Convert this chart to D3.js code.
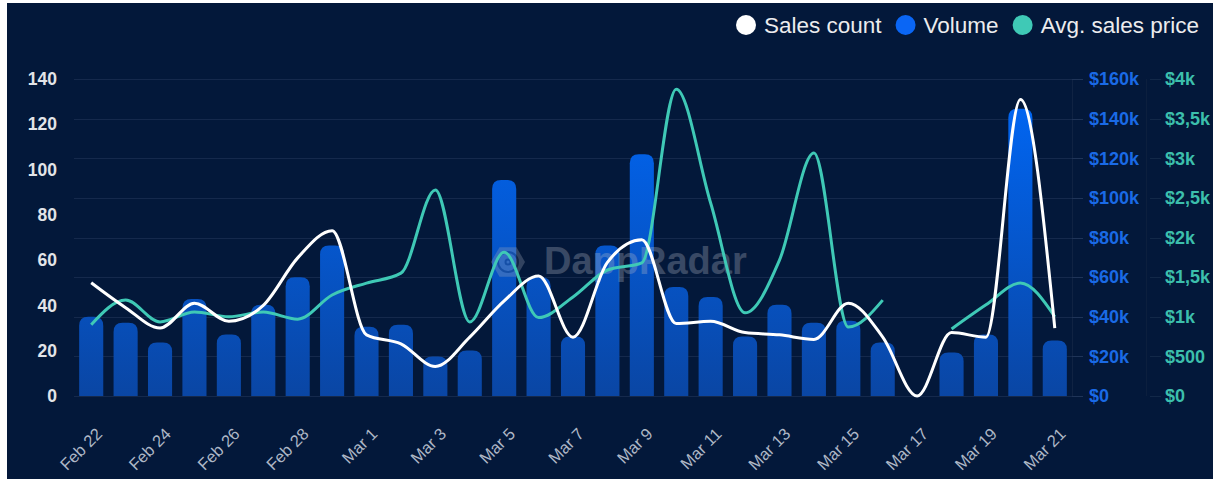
<!DOCTYPE html>
<html>
<head>
<meta charset="utf-8">
<script src="https://cdn.jsdelivr.net/npm/d3@7"></script>
<style>
html, body { margin: 0; padding: 0; background: #fff; }
svg { display: block; font-family: "Liberation Sans", Arial, sans-serif; }
</style>
</head>
<body>
<div class="graph"></div>
<script>
/*---------- DATA ----------*/

const dates = ["Feb 22","Feb 23","Feb 24","Feb 25","Feb 26","Feb 27","Feb 28","Feb 29",
    "Mar 1","Mar 2","Mar 3","Mar 4","Mar 5","Mar 6","Mar 7","Mar 8","Mar 9","Mar 10",
    "Mar 11","Mar 12","Mar 13","Mar 14","Mar 15","Mar 16","Mar 17","Mar 18","Mar 19",
    "Mar 20","Mar 21"];

// volume in $k
const volume = [40, 37, 27, 49, 31, 46, 60, 76, 35, 36, 20, 23, 109, 60, 30, 76, 122, 55,
    50, 30, 46, 37, 38, 27, 0, 22, 31, 145, 28];

const salesCount = [50, 39, 30, 41, 33, 40, 61, 73, 27, 23, 13, 26, 42, 53, 26, 59, 69, 32,
    33, 28, 27, 25, 41, 26, 0, 28, 26, 131, 30];

const avgPrice = [900, 1210, 935, 1060, 1000, 1060, 970, 1275, 1425, 1550, 2600, 935, 1815,
    990, 1250, 1590, 1680, 3870, 2435, 1050, 1715, 3065, 870, 1210, null, 845, 1150, 1425, 1000];

const countTicks = [0, 20, 40, 60, 80, 100, 120, 140];
const volumeTicks = [0, 20, 40, 60, 80, 100, 120, 140, 160];
const volumeLabels = ["$0","$20k","$40k","$60k","$80k","$100k","$120k","$140k","$160k"];
const priceTicks = [0, 500, 1000, 1500, 2000, 2500, 3000, 3500, 4000];
const priceLabels = ["$0","$500","$1k","$1,5k","$2k","$2,5k","$3k","$3,5k","$4k"];

const legendItems = [
    {name: "Sales count", color: "#ffffff"},
    {name: "Volume", color: "#0a66f5"},
    {name: "Avg. sales price", color: "#3fc9b6"}
];

/*---------- D3 STUFF ----------*/

const SIZE = {X: 1225, Y: 479};
const PLOT = {LEFT: 74, RIGHT: 1072, TOP: 79, BOTTOM: 396};
const COLORS = {BG: "#03183a", GRID: "#15294c", WHITE: "#ffffff", TEAL: "#3fc9b6",
    BLUE_TXT: "#1a6ae6", TEAL_TXT: "#3cbfac", AXIS_TXT: "#e2e4e8", X_TXT: "#aeb7c6"};

const svg = d3.select(".graph").append("svg")
    .attr("width", SIZE.X)
    .attr("height", SIZE.Y);

//dark card background
svg.append("rect")
    .attr("x", 7).attr("y", 3)
    .attr("width", 1206).attr("height", 476)
    .attr("fill", COLORS.BG);

//scales
const x = d3.scaleBand()
    .domain(dates)
    .range([PLOT.LEFT, PLOT.RIGHT])
    .paddingInner(0.3)
    .paddingOuter(0.15);

const yCount = d3.scaleLinear().domain([0, 140]).range([PLOT.BOTTOM, PLOT.TOP]);
const yVol = d3.scaleLinear().domain([0, 160]).range([PLOT.BOTTOM, PLOT.TOP]);
const yPrice = d3.scaleLinear().domain([0, 4000]).range([PLOT.BOTTOM, PLOT.TOP]);

const cx = d => x(d) + x.bandwidth() / 2;

//gradient for bars
const defs = svg.append("defs");
const grad = defs.append("linearGradient")
    .attr("id", "barGrad")
    .attr("gradientUnits", "userSpaceOnUse")
    .attr("x1", 0).attr("x2", 0)
    .attr("y1", PLOT.TOP).attr("y2", PLOT.BOTTOM);
grad.append("stop").attr("offset", "0%").attr("stop-color", "#0068f8");
grad.append("stop").attr("offset", "100%").attr("stop-color", "#0a46a4");

//gridlines (follow the volume axis)
svg.append("g")
    .selectAll("line")
    .data(volumeTicks)
    .enter()
    .append("line")
        .attr("x1", PLOT.LEFT).attr("x2", PLOT.RIGHT)
        .attr("y1", d => Math.round(yVol(d)) + 0.5)
        .attr("y2", d => Math.round(yVol(d)) + 0.5)
        .attr("stroke", COLORS.GRID)
        .attr("stroke-width", 1);

//faint right axis lines
svg.append("line")
    .attr("x1", PLOT.RIGHT + 0.5).attr("x2", PLOT.RIGHT + 0.5)
    .attr("y1", PLOT.TOP).attr("y2", PLOT.BOTTOM)
    .attr("stroke", "#102343");
svg.append("line")
    .attr("x1", 1146.5).attr("x2", 1146.5)
    .attr("y1", PLOT.TOP).attr("y2", PLOT.BOTTOM)
    .attr("stroke", "#0c1f3e");

//bars with rounded tops
function barPath(xPos, w, yTop, yBase, r) {
    r = Math.min(r, w / 2, yBase - yTop);
    return `M${xPos},${yBase} V${yTop + r} Q${xPos},${yTop} ${xPos + r},${yTop}` +
        ` H${xPos + w - r} Q${xPos + w},${yTop} ${xPos + w},${yTop + r} V${yBase} Z`;
}

svg.append("g")
    .selectAll("path")
    .data(dates.map((d, i) => ({date: d, v: volume[i]})).filter(d => d.v > 0))
    .enter()
    .append("path")
        .attr("d", d => barPath(x(d.date), x.bandwidth(), yVol(d.v), PLOT.BOTTOM, 9))
        .attr("fill", "url(#barGrad)");

//watermark
const wm = svg.append("g").attr("opacity", 0.3);
const hex = d3.range(6).map(k => {
    const a = Math.PI / 3 * k;
    return [508 + 17 * Math.cos(a), 262 + 17 * Math.sin(a)];
});
wm.append("path")
    .attr("d", d3.line()(hex) + "Z")
    .attr("fill", "#a0a8b8");
[10, 6, 2.5].forEach((r, k) => {
    wm.append("circle")
        .attr("cx", 508).attr("cy", 262).attr("r", r)
        .attr("fill", "none")
        .attr("stroke", k % 2 ? "#a0a8b8" : "#3a4660")
        .attr("stroke-width", 2);
});
wm.append("text")
    .attr("x", 544).attr("y", 274)
    .attr("font-size", 38)
    .attr("font-weight", "bold")
    .attr("fill", "#b6bcc8")
    .text("DappRadar");

//lines
const countLine = d3.line()
    .x((d, i) => cx(dates[i]))
    .y(d => yCount(d))
    .curve(d3.curveMonotoneX);

const priceLine = d3.line()
    .defined(d => d !== null)
    .x((d, i) => cx(dates[i]))
    .y(d => yPrice(d))
    .curve(d3.curveMonotoneX);

svg.append("path")
    .datum(avgPrice)
    .attr("d", priceLine)
    .attr("fill", "none")
    .attr("stroke", COLORS.TEAL)
    .attr("stroke-width", 3)
    .attr("stroke-linejoin", "round");

svg.append("path")
    .datum(salesCount)
    .attr("d", countLine)
    .attr("fill", "none")
    .attr("stroke", COLORS.WHITE)
    .attr("stroke-width", 3)
    .attr("stroke-linejoin", "round");

//left axis (sales count)
svg.append("g")
    .selectAll("text")
    .data(countTicks)
    .enter()
    .append("text")
        .attr("x", 57)
        .attr("y", d => yCount(d))
        .attr("dy", "0.35em")
        .attr("text-anchor", "end")
        .attr("font-size", 17.5)
        .attr("font-weight", "bold")
        .attr("fill", COLORS.AXIS_TXT)
        .text(d => d);

//right axis (volume)
const volAxis = svg.append("g");
volAxis.selectAll("line")
    .data(volumeTicks)
    .enter()
    .append("line")
        .attr("x1", PLOT.RIGHT).attr("x2", PLOT.RIGHT + 11)
        .attr("y1", d => Math.round(yVol(d)) + 0.5)
        .attr("y2", d => Math.round(yVol(d)) + 0.5)
        .attr("stroke", "#1f3458");
volAxis.selectAll("text")
    .data(volumeTicks)
    .enter()
    .append("text")
        .attr("x", 1089)
        .attr("y", d => yVol(d))
        .attr("dy", "0.35em")
        .attr("font-size", 18)
        .attr("font-weight", "bold")
        .attr("fill", COLORS.BLUE_TXT)
        .text((d, i) => volumeLabels[i]);

//right axis (avg. price)
const priceAxis = svg.append("g");
priceAxis.selectAll("line")
    .data(priceTicks)
    .enter()
    .append("line")
        .attr("x1", 1150).attr("x2", 1161)
        .attr("y1", d => Math.round(yPrice(d)) + 0.5)
        .attr("y2", d => Math.round(yPrice(d)) + 0.5)
        .attr("stroke", "#122848");
priceAxis.selectAll("text")
    .data(priceTicks)
    .enter()
    .append("text")
        .attr("x", 1165)
        .attr("y", d => yPrice(d))
        .attr("dy", "0.35em")
        .attr("font-size", 18)
        .attr("font-weight", "bold")
        .attr("fill", COLORS.TEAL_TXT)
        .text((d, i) => priceLabels[i]);

//x axis labels, every second day
svg.append("g")
    .selectAll("text")
    .data(dates.filter((d, i) => i % 2 === 0))
    .enter()
    .append("text")
        .attr("transform", d => `translate(${cx(d) + 12}, 435) rotate(-45)`)
        .attr("text-anchor", "end")
        .attr("font-size", 16.5)
        .attr("fill", COLORS.X_TXT)
        .text(d => d);

//legend
const legend = svg.append("g");
let lx = 746;
legendItems.forEach(item => {
    legend.append("circle")
        .attr("cx", lx).attr("cy", 25).attr("r", 10)
        .attr("fill", item.color);
    const t = legend.append("text")
        .attr("x", lx + 18).attr("y", 33)
        .attr("font-size", 22.5)
        .attr("fill", "#ececee")
        .text(item.name);
    lx += 18 + t.node().getComputedTextLength() + 24;
});
</script>
</body>
</html>
